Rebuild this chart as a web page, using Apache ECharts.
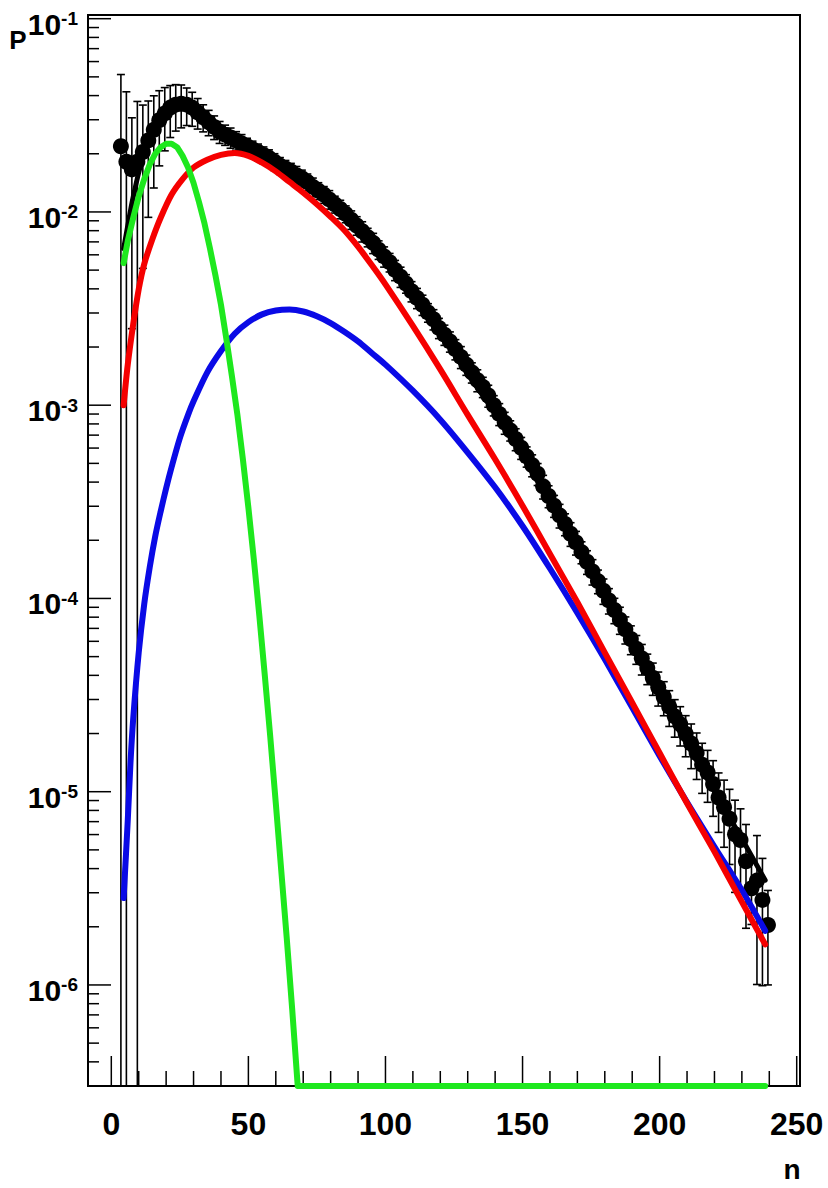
<!DOCTYPE html>
<html>
<head>
<meta charset="utf-8">
<script src="https://cdn.jsdelivr.net/npm/echarts@6/dist/echarts.min.js"></script>
<style>
  html, body { margin: 0; padding: 0; background: #ffffff; }
  #chart { width: 828px; height: 1188px; }
</style>
</head>
<body>
<div id="chart"></div>
<script>
// ---- measured multiplicity distribution (bin centres, log10 P, relative error) ----
const binCentres = [
  3.5, 5.5, 7.5, 9.5, 11.5, 13.5, 15.5, 17.5, 19.5, 21.5,
  23.5, 25.5, 27.5, 29.5, 31.5, 33.5, 35.5, 37.5, 39.5, 41.5,
  43.5, 45.5, 47.5, 49.5, 51.5, 53.5, 55.5, 57.5, 59.5, 61.5,
  63.5, 65.5, 67.5, 69.5, 71.5, 73.5, 75.5, 77.5, 79.5, 81.5,
  83.5, 85.5, 87.5, 89.5, 91.5, 93.5, 95.5, 97.5, 99.5, 101.5,
  103.5, 105.5, 107.5, 109.5, 111.5, 113.5, 115.5, 117.5, 119.5, 121.5,
  123.5, 125.5, 127.5, 129.5, 131.5, 133.5, 135.5, 137.5, 139.5, 141.5,
  143.5, 145.5, 147.5, 149.5, 151.5, 153.5, 155.5, 157.5, 159.5, 161.5,
  163.5, 165.5, 167.5, 169.5, 171.5, 173.5, 175.5, 177.5, 179.5, 181.5,
  183.5, 185.5, 187.5, 189.5, 191.5, 193.5, 195.5, 197.5, 199.5, 201.5,
  203.5, 205.5, 207.5, 209.5, 211.5, 213.5, 215.5, 217.5, 219.5, 221.5,
  223.5, 225.5, 227.5, 229.5, 231.5, 233.5, 235.5, 237.5, 239.5
];
const dataLog = [
  -1.66, -1.74, -1.78, -1.74, -1.69, -1.63, -1.575, -1.525, -1.49, -1.46,
  -1.445, -1.44, -1.445, -1.46, -1.485, -1.51, -1.535, -1.56, -1.585, -1.60,
  -1.615, -1.63, -1.645, -1.66, -1.675, -1.69, -1.705, -1.72, -1.74, -1.76,
  -1.775, -1.79, -1.81, -1.825, -1.845, -1.87, -1.89, -1.91, -1.935, -1.96,
  -1.985, -2.01, -2.04, -2.07, -2.10, -2.13, -2.16, -2.195, -2.23, -2.26,
  -2.30, -2.335, -2.37, -2.41, -2.445, -2.48, -2.52, -2.555, -2.60, -2.635,
  -2.67, -2.71, -2.75, -2.79, -2.83, -2.87, -2.905, -2.95, -3.0, -3.045,
  -3.09, -3.13, -3.175, -3.22, -3.265, -3.31, -3.355, -3.42, -3.47, -3.52,
  -3.57, -3.615, -3.665, -3.71, -3.76, -3.81, -3.86, -3.91, -3.96, -4.01,
  -4.06, -4.11, -4.16, -4.21, -4.26, -4.31, -4.36, -4.41, -4.46, -4.51,
  -4.56, -4.61, -4.65, -4.70, -4.75, -4.80, -4.86, -4.90, -4.96, -5.03,
  -5.08, -5.14, -5.22, -5.25, -5.36, -5.50, -5.46, -5.56, -5.69
];
const dataRelErr = [
  1.35, 1.3, 0.85, 1.05, 0.75, 0.6, 0.5, 0.42, 0.36, 0.3,
  0.27, 0.25, 0.22, 0.2, 0.18, 0.16, 0.15, 0.14, 0.13, 0.12,
  0.12, 0.11, 0.11, 0.1, 0.1, 0.1, 0.1, 0.1, 0.1, 0.1,
  0.1, 0.1, 0.11, 0.1, 0.1, 0.11, 0.1, 0.1, 0.11, 0.1,
  0.11, 0.1, 0.11, 0.11, 0.12, 0.11, 0.12, 0.11, 0.12, 0.11,
  0.12, 0.12, 0.11, 0.12, 0.12, 0.12, 0.11, 0.12, 0.12, 0.12,
  0.12, 0.12, 0.13, 0.12, 0.12, 0.13, 0.12, 0.13, 0.12, 0.13,
  0.13, 0.12, 0.13, 0.13, 0.12, 0.13, 0.13, 0.14, 0.13, 0.13,
  0.14, 0.13, 0.14, 0.14, 0.13, 0.14, 0.15, 0.14, 0.15, 0.15,
  0.15, 0.16, 0.16, 0.17, 0.17, 0.18, 0.18, 0.19, 0.2, 0.2,
  0.21, 0.22, 0.23, 0.24, 0.26, 0.27, 0.29, 0.3, 0.32, 0.34,
  0.38, 0.42, 0.5, 0.45, 0.55, 0.35, 0.71, 0.64, 0.51
];

// ---- fitted curves: total (black) and its three components ----
const totalN   = [4.5, 6, 7, 8, 10, 12, 15, 18, 21, 24, 27, 30, 33, 36, 40, 45, 50, 55, 60, 65, 70, 75, 80, 85, 90, 95, 100, 110, 120, 130, 140, 150, 160, 170, 180, 190, 200, 210, 220, 230, 238.5];
const totalLog = [-2.19, -2.071, -1.993, -1.922, -1.796, -1.693, -1.582, -1.504, -1.461, -1.446, -1.46, -1.492, -1.533, -1.572, -1.604, -1.625, -1.644, -1.682, -1.723, -1.763, -1.805, -1.858, -1.921, -1.985, -2.066, -2.148, -2.245, -2.434, -2.631, -2.839, -3.043, -3.266, -3.502, -3.744, -3.998, -4.254, -4.509, -4.754, -4.999, -5.243, -5.458];

const redN   = [4.5, 6, 8, 10, 12, 15, 18, 22, 26, 30, 35, 40, 45, 50, 55, 60, 65, 70, 75, 80, 85, 90, 95, 100, 110, 120, 130, 140, 150, 160, 170, 180, 190, 200, 210, 220, 230, 238.5];
const redLog = [-3.0, -2.79, -2.58, -2.40, -2.27, -2.14, -2.03, -1.91, -1.83, -1.77, -1.73, -1.705, -1.695, -1.71, -1.745, -1.79, -1.845, -1.90, -1.96, -2.025, -2.095, -2.18, -2.275, -2.375, -2.59, -2.815, -3.05, -3.28, -3.52, -3.77, -4.02, -4.28, -4.54, -4.80, -5.06, -5.31, -5.57, -5.79];

const blueN   = [4.5, 6, 7, 8, 10, 12, 14, 16, 18, 20, 22, 25, 28, 30, 35, 40, 45, 50, 55, 60, 65, 70, 75, 80, 85, 90, 95, 100, 110, 120, 130, 140, 150, 160, 170, 180, 190, 200, 210, 220, 230, 238.5];
const blueLog = [-5.55, -5.15, -4.85, -4.62, -4.28, -4.03, -3.84, -3.68, -3.55, -3.43, -3.32, -3.17, -3.05, -2.98, -2.83, -2.72, -2.63, -2.57, -2.53, -2.51, -2.505, -2.515, -2.54, -2.575, -2.62, -2.67, -2.73, -2.79, -2.925, -3.075, -3.245, -3.425, -3.625, -3.845, -4.075, -4.315, -4.565, -4.815, -5.055, -5.285, -5.51, -5.72];

const greenN   = [4.5, 6, 8, 10, 12, 14, 16, 18, 20, 22, 24, 26, 28, 30, 32, 34, 36, 38, 40, 42, 44, 46, 48, 50, 52, 54, 56, 58, 60, 62, 64, 66, 68, 238.5];
const greenLog = [-2.265, -2.15, -2.03, -1.92, -1.83, -1.755, -1.70, -1.665, -1.647, -1.647, -1.665, -1.71, -1.77, -1.85, -1.95, -2.06, -2.19, -2.33, -2.48, -2.66, -2.85, -3.05, -3.28, -3.53, -3.80, -4.09, -4.40, -4.72, -5.06, -5.41, -5.76, -6.13, -6.5229, -6.5229];

// ---- axis ranges and ticks ----
const X_MIN = -8.5, X_MAX = 251.2;
const Y_MIN = 3e-7, Y_MAX = 0.1045;
const xMajorTicks = [0, 50, 100, 150, 200, 250];
const xMinorTicks = [10, 20, 30, 40, 60, 70, 80, 90, 110, 120, 130, 140, 160, 170, 180, 190, 210, 220, 230, 240];
const yMajorTicks = [1e-6, 1e-5, 1e-4, 1e-3, 1e-2, 1e-1];
const yMantissas = [2, 3, 4, 5, 6, 7, 8, 9];
const yDecades = [1e-7, 1e-6, 1e-5, 1e-4, 1e-3, 1e-2];

const yMinorTicks = [];
yDecades.forEach(d => yMantissas.forEach(m => {
  const v = +(m * d).toPrecision(3);
  if (v >= Y_MIN && v <= Y_MAX) yMinorTicks.push(v);
}));

const FONT = '"Liberation Sans", Arial, Helvetica, sans-serif';
const toP = v => Math.pow(10, v);
const pairs = (xs, logs) => xs.map((x, i) => [x, toP(logs[i])]);

const pointData = binCentres.map((n, i) => [n, toP(dataLog[i])]);
const errData = binCentres.map((n, i) => {
  const p = toP(dataLog[i]);
  const r = dataRelErr[i];
  return [n, p, p * (1 - r), p * (1 + r)];
});

// tick rows: [x value, y value, length in px, 0 = x-axis tick / 1 = y-axis tick]
const tickRows = []
  .concat(xMajorTicks.map(v => [v, Y_MIN, 30, 0]))
  .concat(xMinorTicks.map(v => [v, Y_MIN, 15, 0]))
  .concat(yMajorTicks.map(v => [X_MIN, v, 23, 1]))
  .concat(yMinorTicks.map(v => [X_MIN, v, 11, 1]));

const TICK_STYLE = { stroke: '#000', lineWidth: 1.5 };

function renderTick(params, api) {
  const pt = api.coord([api.value(0), api.value(1)]);
  const len = api.value(2);
  const onX = api.value(3) === 0;
  const shape = onX
    ? { x1: pt[0], y1: pt[1], x2: pt[0], y2: pt[1] - len }
    : { x1: pt[0], y1: pt[1], x2: pt[0] + len, y2: pt[1] };
  return { type: 'line', shape, style: TICK_STYLE };
}

function renderErrorBar(params, api) {
  const n = api.value(0);
  const lo = api.value(2);
  const hi = api.value(3);
  const cs = params.coordSys;
  const topPt = api.coord([n, hi]);
  const x = topPt[0];
  const yTop = topPt[1];
  const hasLow = lo > Y_MIN;
  const yBot = hasLow ? api.coord([n, lo])[1] : cs.y + cs.height + 4;
  const half = 4;
  const st = { stroke: '#000', lineWidth: 1.6 };
  const children = [
    { type: 'line', shape: { x1: x, y1: yTop, x2: x, y2: yBot }, style: st },
    { type: 'line', shape: { x1: x - half, y1: yTop, x2: x + half, y2: yTop }, style: st }
  ];
  if (hasLow) {
    children.push({ type: 'line', shape: { x1: x - half, y1: yBot, x2: x + half, y2: yBot }, style: st });
  }
  return { type: 'group', children };
}

const chart = echarts.init(document.getElementById('chart'), null, { renderer: 'svg' });

const curve = (name, data, color, width, z, smooth) => ({
  name, type: 'line', data, showSymbol: false, symbol: 'none', smooth, z,
  lineStyle: { color, width, cap: 'round', join: 'round' }, silent: true
});

const labelStyle = size => ({
  fontSize: size, fontWeight: 'bold', fontFamily: FONT, color: '#000'
});

chart.setOption({
  animation: false,
  backgroundColor: '#ffffff',
  grid: {
    left: 88, top: 15, width: 712, height: 1071,
    show: true, borderColor: '#000', borderWidth: 2, backgroundColor: 'transparent',
    containLabel: false, outerBoundsMode: 'none'
  },
  xAxis: {
    type: 'value', min: X_MIN, max: X_MAX, position: 'bottom',
    axisLine: { show: false }, splitLine: { show: false }, axisTick: { show: false },
    axisLabel: { show: true, customValues: xMajorTicks, margin: 22, color: '#000', fontSize: 32, fontWeight: 'bold', fontFamily: FONT }
  },
  yAxis: {
    type: 'log', logBase: 10, min: Y_MIN, max: Y_MAX, position: 'left',
    axisLine: { show: false }, splitLine: { show: false }, axisTick: { show: false },
    axisLabel: {
      show: true, customValues: yMajorTicks, margin: 10, padding: [11, 0, 0, 0],
      formatter: v => '{b|10}{e|' + Math.round(Math.log10(v)) + '}',
      rich: {
        b: Object.assign(labelStyle(30), { lineHeight: 30, padding: [3, 0, 0, 0], verticalAlign: 'bottom' }),
        e: Object.assign(labelStyle(19), { lineHeight: 20, verticalAlign: 'top' })
      }
    }
  },
  series: [
    {
      name: 'ticks', type: 'custom', renderItem: renderTick, data: tickRows,
      clip: false, silent: true, z: 1
    },
    {
      name: 'errors', type: 'custom', renderItem: renderErrorBar, data: errData,
      encode: { x: 0, y: 1 }, clip: true, silent: true, z: 2
    },
    {
      name: 'data', type: 'scatter', data: pointData, symbol: 'circle', symbolSize: 16,
      itemStyle: { color: '#000', opacity: 1 }, silent: true, z: 3
    },
    curve('total', pairs(totalN, totalLog), '#000000', 5, 4, 0.3),
    curve('component 2', pairs(blueN, blueLog), '#0a0ae6', 6, 5, 0.3),
    curve('component 1', pairs(redN, redLog), '#f50000', 6, 6, 0.3),
    curve('component 0', pairs(greenN, greenLog), '#1ee81e', 6, 7, false)
  ],
  graphic: [
    { type: 'text', x: 18, y: 40, style: { text: 'P', font: 'bold 26px ' + FONT, fill: '#000', textAlign: 'center', textVerticalAlign: 'middle' } },
    { type: 'text', x: 792, y: 1169, style: { text: 'n', font: 'bold 28px ' + FONT, fill: '#000', textAlign: 'center', textVerticalAlign: 'middle' } }
  ]
});
</script>
</body>
</html>
